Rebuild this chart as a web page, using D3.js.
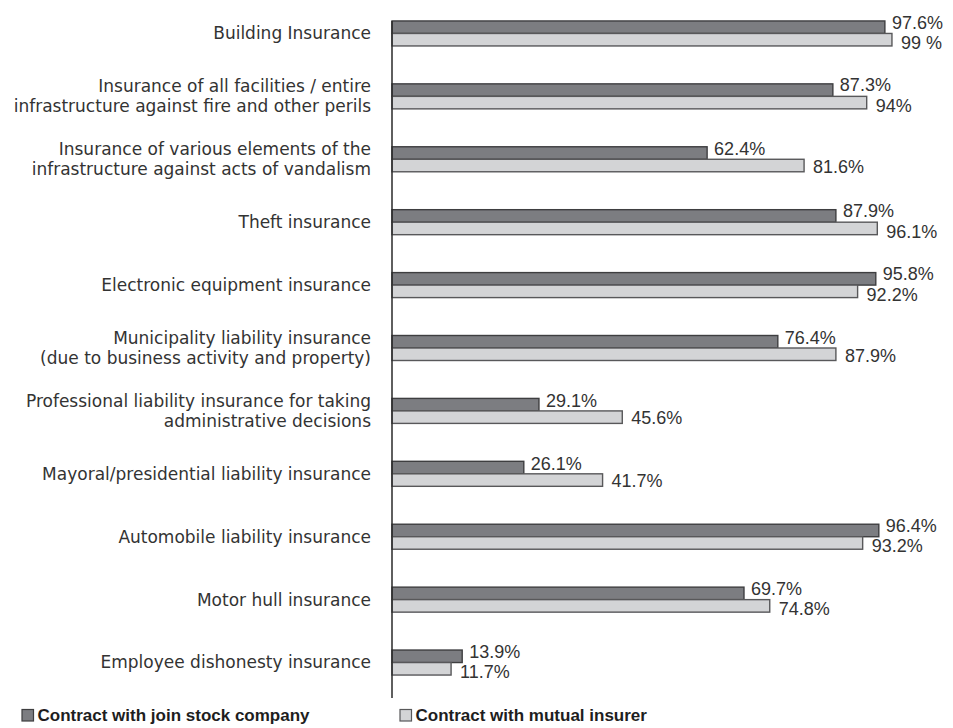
<!DOCTYPE html>
<html>
<head>
<meta charset="utf-8">
<script src="https://cdn.jsdelivr.net/npm/d3@7"></script>
<style>
  html, body { margin: 0; padding: 0; background: #fff; }
  svg { display: block; }
</style>
</head>
<body>
<svg id="chart" width="953" height="728"></svg>
<script>
// Insurance types (multi-line labels split with "\n")
const categories = [
  "Building Insurance",
  "Insurance of all facilities / entire\ninfrastructure against fire and other perils",
  "Insurance of various elements of the\ninfrastructure against acts of vandalism",
  "Theft insurance",
  "Electronic equipment insurance",
  "Municipality liability insurance\n(due to business activity and property)",
  "Professional liability insurance for taking\nadministrative decisions",
  "Mayoral/presidential liability insurance",
  "Automobile liability insurance",
  "Motor hull insurance",
  "Employee dishonesty insurance"
];

// Share of municipalities (%) by contract type
const jointStock = [97.6, 87.3, 62.4, 87.9, 95.8, 76.4, 29.1, 26.1, 96.4, 69.7, 13.9];
const mutualInsurer = [99, 94, 81.6, 96.1, 92.2, 87.9, 45.6, 41.7, 93.2, 74.8, 11.7];
// Printed value labels
const jointStockLabels = ["97.6%", "87.3%", "62.4%", "87.9%", "95.8%", "76.4%", "29.1%", "26.1%", "96.4%", "69.7%", "13.9%"];
const mutualInsurerLabels = ["99 %", "94%", "81.6%", "96.1%", "92.2%", "87.9%", "45.6%", "41.7%", "93.2%", "74.8%", "11.7%"];

const seriesNames = ["Contract with join stock company", "Contract with mutual insurer"];

const colors = {
  dark: "#7c7d81", darkStroke: "#3e3e40",
  light: "#d3d4d6", lightStroke: "#58585a",
  text: "#333333"
};

const svg = d3.select("#chart");
const axisX = 392;

const x = d3.scaleLinear().domain([0, 100]).range([axisX, axisX + 505]);
const y = d3.scaleBand().domain(categories).range([2, 694]).paddingInner(0).paddingOuter(0);
const barH = 12.5;
const center = c => y(c) + y.bandwidth() / 2;

const rows = categories.map((c, i) => ({
  cat: c,
  a: jointStock[i], b: mutualInsurer[i],
  la: jointStockLabels[i], lb: mutualInsurerLabels[i]
}));

// Category labels via a left axis without ticks or domain
const axisG = svg.append("g")
  .attr("transform", `translate(${axisX},0)`)
  .call(d3.axisLeft(y).tickSize(0).tickPadding(21).tickFormat(() => ""));
axisG.select(".domain").remove();
axisG.selectAll(".tick text").each(function(d) {
  const t = d3.select(this);
  const lines = d.split("\n");
  t.text(null)
    .attr("font-family", "'DejaVu Sans', sans-serif")
    .attr("font-size", 17)
    .attr("fill", colors.text)
    .attr("text-anchor", "end")
    .attr("dy", null);
  const lh = 20;
  lines.forEach((ln, k) => {
    t.append("tspan")
      .attr("x", -21)
      .attr("y", (k - (lines.length - 1) / 2) * lh)
      .attr("dy", "0.35em")
      .text(ln);
  });
});

// Bars
const g = svg.append("g");
g.selectAll("rect.dark").data(rows).join("rect")
  .attr("class", "dark")
  .attr("x", x(0))
  .attr("y", d => center(d.cat) - barH)
  .attr("width", d => x(d.a) - x(0))
  .attr("height", barH)
  .attr("fill", colors.dark)
  .attr("stroke", colors.darkStroke)
  .attr("stroke-width", 1.4);

g.selectAll("rect.light").data(rows).join("rect")
  .attr("class", "light")
  .attr("x", x(0))
  .attr("y", d => center(d.cat))
  .attr("width", d => x(d.b) - x(0))
  .attr("height", barH)
  .attr("fill", colors.light)
  .attr("stroke", colors.lightStroke)
  .attr("stroke-width", 1.4);

// Value labels
const valFont = "'Liberation Sans Narrow', 'Liberation Sans', sans-serif";
const valSize = 18;
const padA = 7, padB = 9;

const labA = g.selectAll("text.la").data(rows).join("text")
  .attr("class", "la")
  .attr("x", d => x(d.a) + padA)
  .attr("dy", "0.35em")
  .attr("font-family", valFont)
  .attr("font-size", valSize)
  .attr("fill", colors.text)
  .text(d => d.la);

const labB = g.selectAll("text.lb").data(rows).join("text")
  .attr("class", "lb")
  .attr("x", d => x(d.b) + padB)
  .attr("dy", "0.35em")
  .attr("font-family", valFont)
  .attr("font-size", valSize)
  .attr("fill", colors.text)
  .text(d => d.lb);

// Default label rows sit beside their bars; when the two labels of a
// group run into each other horizontally, spread them apart vertically.
const nodesA = labA.nodes(), nodesB = labB.nodes();
rows.forEach((d, i) => {
  const c = center(d.cat);
  let ya = c - barH / 2 - 4;
  let yb = c + barH / 2 + 1;
  const a0 = x(d.a) + padA, a1 = a0 + nodesA[i].getComputedTextLength();
  const b0 = x(d.b) + padB, b1 = b0 + nodesB[i].getComputedTextLength();
  if (a0 < b1 && b0 < a1) {
    const mid = c - 1;
    const half = valSize * 1.13 / 2;
    ya = mid - half;
    yb = mid + half;
  }
  d3.select(nodesA[i]).attr("y", ya);
  d3.select(nodesB[i]).attr("y", yb);
});

// Vertical axis line
svg.append("line")
  .attr("x1", axisX).attr("x2", axisX)
  .attr("y1", y(categories[0]) + y.bandwidth() / 2 - barH)
  .attr("y2", 698)
  .attr("stroke", "#2a2a2a")
  .attr("stroke-width", 1.5);

// Legend
const legend = svg.append("g");
const legendItems = [
  { name: seriesNames[0], fill: colors.dark, stroke: colors.darkStroke, x: 22 },
  { name: seriesNames[1], fill: colors.light, stroke: colors.lightStroke, x: 400 }
];
legendItems.forEach(it => {
  legend.append("rect")
    .attr("x", it.x).attr("y", 709.5)
    .attr("width", 11.5).attr("height", 11.5)
    .attr("fill", it.fill)
    .attr("stroke", it.stroke)
    .attr("stroke-width", 1.2);
  legend.append("text")
    .attr("x", it.x + 15.5).attr("y", 715.5)
    .attr("dy", "0.35em")
    .attr("font-family", valFont)
    .attr("font-weight", "bold")
    .attr("font-size", 17)
    .attr("fill", "#1e1e1e")
    .text(it.name);
});
</script>
</body>
</html>
